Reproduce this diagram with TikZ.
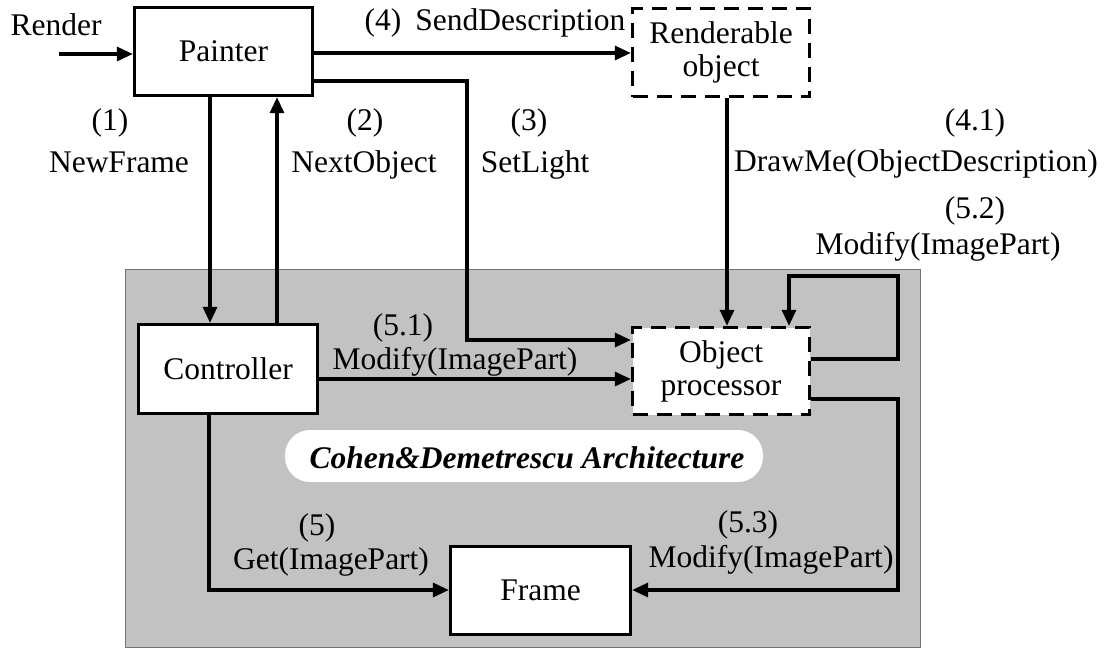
\documentclass[tikz,border=0pt]{standalone}
\usepackage{fontspec}
\setmainfont{Liberation Serif}
\usetikzlibrary{arrows.meta}
\tikzset{
  wire/.style={line width=3.2pt, -{Triangle[length=16pt,width=14pt]}},
  block/.style={draw, fill=white, line width=3.3pt, inner sep=0pt, font=\fontsize{31.5}{33}\selectfont, align=center},
  dashblock/.style={block, dash pattern=on 15pt off 9pt},
  lbl/.style={inner sep=0pt, font=\fontsize{31.5}{34}\selectfont, text height=0.72em, text depth=0.22em, yshift=-5pt},
  zone/.style={fill=black!24, draw=black!55, line width=0.6pt},
  banner/.style={fill=white, rounded corners=25pt, inner sep=0pt}
}
\begin{document}
\begin{tikzpicture}[x=1pt,y=-1pt]
\useasboundingbox (0,0) rectangle (1107,648);

% shaded architecture zone
\path[zone] (125,269) rectangle (920,647);
\path[banner] (285,430) rectangle (763,482);
\node[lbl, font=\fontsize{31.5}{34}\selectfont\bfseries\itshape] (title) at (527,461) {Cohen\&Demetrescu Architecture};

% blocks
\node[block, minimum width=178pt, minimum height=88pt] (painter) at (223.5,51.5) {Painter};
\node[dashblock, minimum width=177pt, minimum height=88pt] (robj) at (721,52.5) {Renderable\\object};
\node[block, minimum width=179pt, minimum height=89pt] (ctrl) at (228,369) {Controller};
\node[dashblock, minimum width=177pt, minimum height=87pt] (proc) at (721,371) {Object\\processor};
\node[block, minimum width=180pt, minimum height=88pt] (frame) at (540.5,590.5) {Frame};

% free ends and bends
\coordinate (render) at (59,54);
\coordinate (lightbend) at (467,81);
\coordinate (loopR) at (898,276);
\coordinate (loopL) at (789,276);
\coordinate (getbend) at (209,590);
\coordinate (modbend) at (898,590);

% connectors
\draw[wire] (render) -- (render -| painter.west);
\draw[wire] (painter.east |- 0,53) -- (robj.west |- 0,53);
\draw[wire] (painter.south -| 210,0) -- (ctrl.north -| 210,0);
\draw[wire] (ctrl.north -| 277,0) -- (painter.south -| 277,0);
\draw[wire] (painter.east |- lightbend) -- (lightbend) |- (proc.west |- 0,340);
\draw[wire] (robj.south -| 727,0) -- (proc.north -| 727,0);
\draw[wire] (proc.east |- 0,359) -| (loopR) -- (loopL) -- (proc.north -| loopL);
\draw[wire] (ctrl.east |- 0,379) -- (proc.west |- 0,379);
\draw[wire] (ctrl.south -| getbend) -- (getbend) -- (frame.west |- getbend);
\draw[wire] (proc.east |- 0,399) -| (modbend) -- (frame.east |- modbend);

% labels
\node[lbl] (lrender) at (56,28) {Render};
\node[lbl] (l4) at (495,23) {(4)\hspace{0.45em}SendDescription};
\node[lbl] (l1a) at (110,123) {(1)};
\node[lbl] (l1b) at (119,165) {NewFrame};
\node[lbl] (l2a) at (365,123) {(2)};
\node[lbl] (l2b) at (364,165) {NextObject};
\node[lbl] (l3a) at (529,123) {(3)};
\node[lbl] (l3b) at (535,165) {SetLight};
\node[lbl] (l41a) at (975,123) {(4.1)};
\node[lbl] (l41b) at (916,164) {DrawMe(ObjectDescription)};
\node[lbl] (l52a) at (975,211) {(5.2)};
\node[lbl] (l52b) at (938,247) {Modify(ImagePart)};
\node[lbl] (l51a) at (403,328) {(5.1)};
\node[lbl] (l51b) at (455,362) {Modify(ImagePart)};
\node[lbl] (l5a) at (317,528) {(5)};
\node[lbl] (l5b) at (331,562) {Get(ImagePart)};
\node[lbl] (l53a) at (748,525) {(5.3)};
\node[lbl] (l53b) at (771,560) {Modify(ImagePart)};
\end{tikzpicture}
\end{document}
